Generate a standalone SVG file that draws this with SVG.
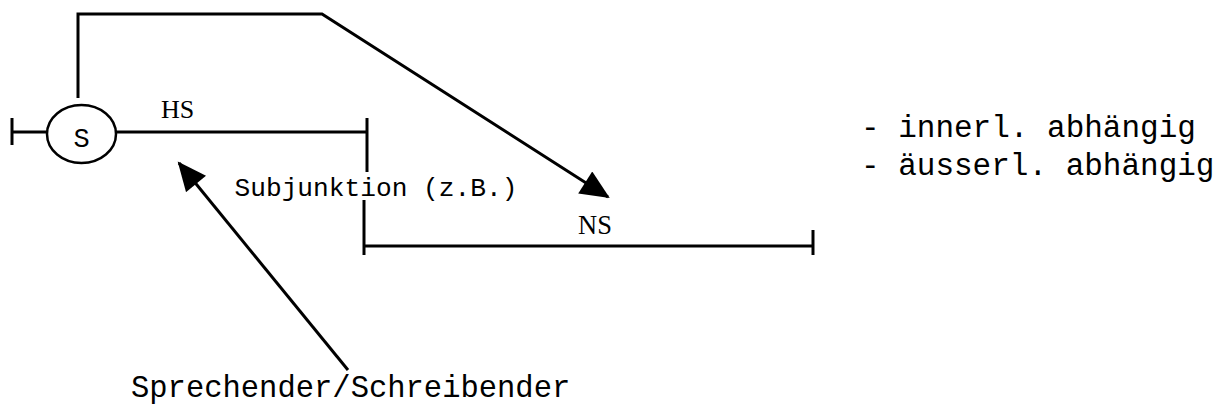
<svg xmlns="http://www.w3.org/2000/svg" width="1219" height="410" viewBox="0 0 1219 410">
<style>
.ln{fill:none;stroke:#000;stroke-width:3;stroke-linecap:butt;stroke-linejoin:miter}
.mono{font-family:"Liberation Mono","Courier New",monospace;fill:#000}
.serif{font-family:"Liberation Serif","Times New Roman",serif;fill:#000}
</style>
<defs>
<marker id="ah" markerUnits="userSpaceOnUse" markerWidth="30" markerHeight="26" refX="26" refY="12.5" orient="auto" viewBox="0 0 28 25">
<path d="M0,0 L28,12.5 L0,25 z" fill="#000"/>
</marker>
</defs>
<rect width="1219" height="410" fill="#fff"/>
<g id="connectors">
<polyline class="ln" points="78,98 78,14 322,14 608,197" marker-end="url(#ah)"/>
<line class="ln" x1="348" y1="370" x2="179" y2="163" marker-end="url(#ah)"/>
</g>
<g id="hs">
<line class="ln" x1="12" y1="118" x2="12" y2="145"/>
<line class="ln" x1="12" y1="132" x2="47" y2="132"/>
<line class="ln" x1="116" y1="132" x2="367" y2="132"/>
<line class="ln" x1="367" y1="118" x2="367" y2="172"/>
<text class="serif" x="161" y="118" font-size="26">HS</text>
</g>
<g id="s-node">
<ellipse cx="81.5" cy="134" rx="34.5" ry="29" fill="#fff" stroke="#000" stroke-width="2.5"/>
<text class="mono" x="81.5" y="147" font-size="27" text-anchor="middle">S</text>
</g>
<g id="subjunktion">
<text class="mono" x="234.5" y="196" font-size="26.2">Subjunktion (z.B.)</text>
</g>
<g id="ns">
<line class="ln" x1="364" y1="200" x2="364" y2="255"/>
<line class="ln" x1="364" y1="246" x2="813" y2="246"/>
<line class="ln" x1="813" y1="230" x2="813" y2="255"/>
<text class="serif" x="578" y="234" font-size="26.5">NS</text>
</g>
<g id="legend">
<text class="mono" x="861" y="137" font-size="31">- innerl. abhängig</text>
<text class="mono" x="861" y="175" font-size="31">- äusserl. abhängig</text>
</g>
<g id="sprecher">
<text class="mono" x="131" y="397" font-size="30.5">Sprechender/Schreibender</text>
</g>
</svg>
